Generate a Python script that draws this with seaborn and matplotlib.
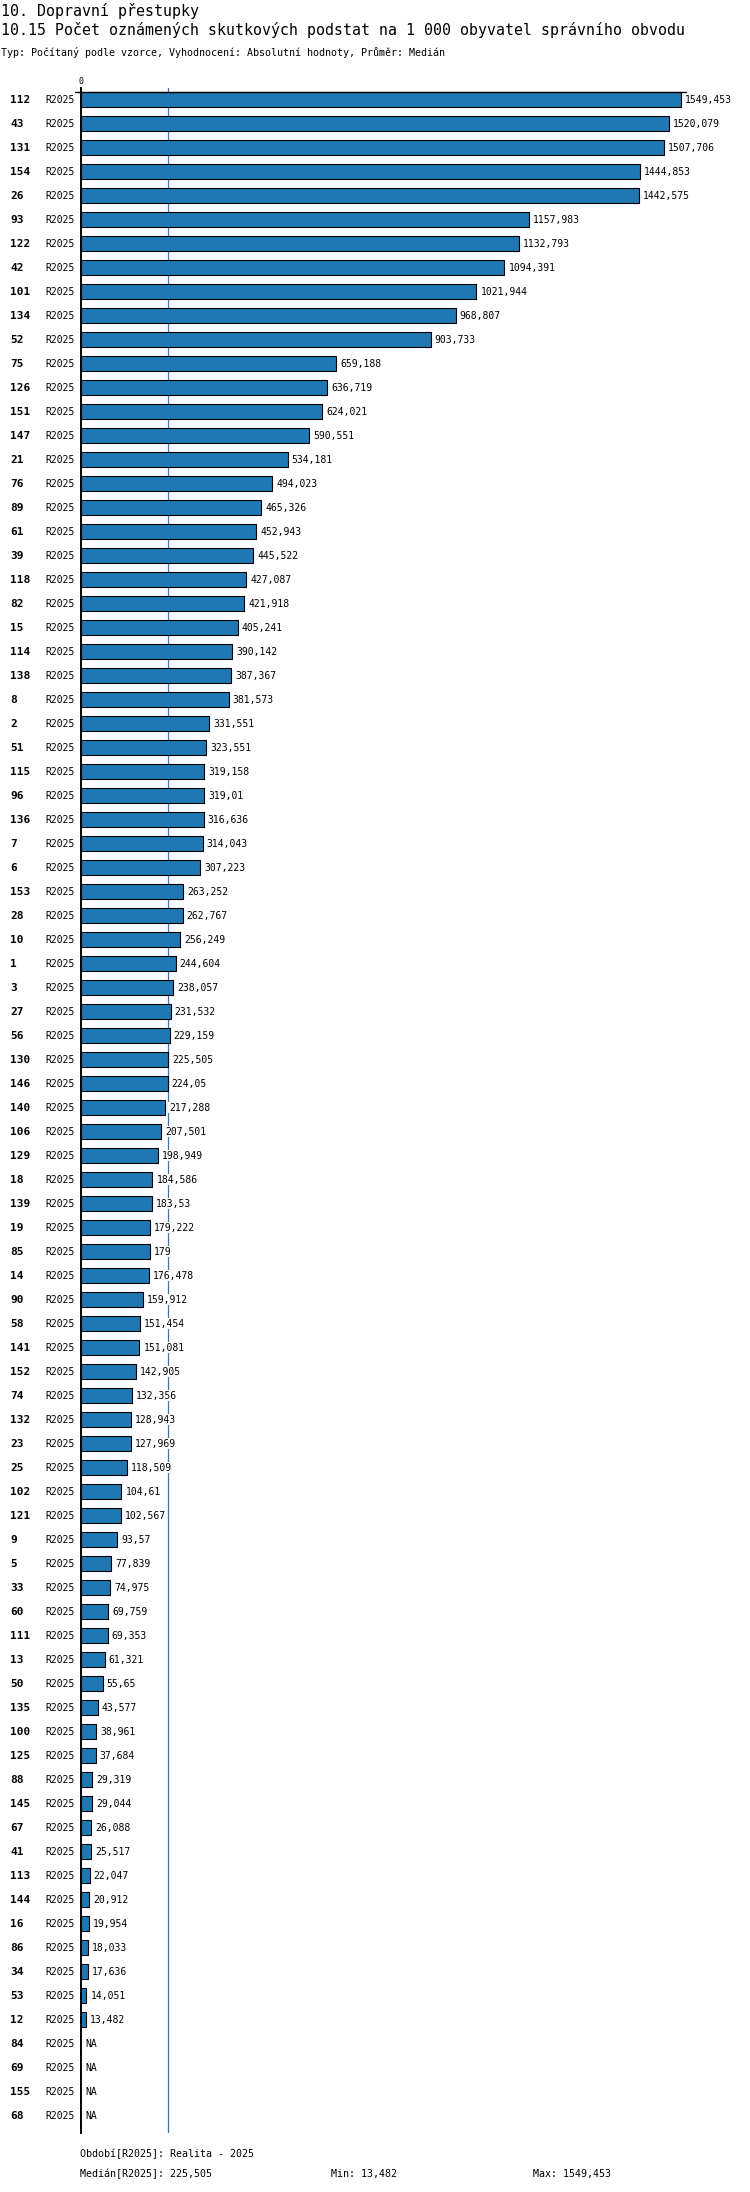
import matplotlib
matplotlib.use("Agg")
import matplotlib.pyplot as plt
import matplotlib.transforms as mtransforms
import numpy as np
import pandas as pd
import seaborn as sns

# Region ids, top to bottom, as shown in the chart.
region_ids = [
    "112", "43", "131", "154", "26", "93", "122", "42", "101", "134", "52",
    "75", "126", "151", "147", "21", "76", "89", "61", "39", "118", "82",
    "15", "114", "138", "8", "2", "51", "115", "96", "136", "7", "6",
    "153", "28", "10", "1", "3", "27", "56", "130", "146", "140", "106",
    "129", "18", "139", "19", "85", "14", "90", "58", "141", "152", "74",
    "132", "23", "25", "102", "121", "9", "5", "33", "60", "111", "13",
    "50", "135", "100", "125", "88", "145", "67", "41", "113", "144", "16",
    "86", "34", "53", "12", "84", "69", "155", "68",
]

# Value per region (per 1 000 inhabitants); None = NA.
values = [
    1549.453, 1520.079, 1507.706, 1444.853, 1442.575, 1157.983, 1132.793,
    1094.391, 1021.944, 968.807, 903.733, 659.188, 636.719, 624.021,
    590.551, 534.181, 494.023, 465.326, 452.943, 445.522, 427.087, 421.918,
    405.241, 390.142, 387.367, 381.573, 331.551, 323.551, 319.158, 319.01,
    316.636, 314.043, 307.223, 263.252, 262.767, 256.249, 244.604, 238.057,
    231.532, 229.159, 225.505, 224.05, 217.288, 207.501, 198.949, 184.586,
    183.53, 179.222, 179.0, 176.478, 159.912, 151.454, 151.081, 142.905,
    132.356, 128.943, 127.969, 118.509, 104.61, 102.567, 93.57, 77.839,
    74.975, 69.759, 69.353, 61.321, 55.65, 43.577, 38.961, 37.684, 29.319,
    29.044, 26.088, 25.517, 22.047, 20.912, 19.954, 18.033, 17.636, 14.051,
    13.482, None, None, None, None,
]

period_label = "R2025"
median_value = 225.505

title_main = "10. Dopravní přestupky"
title_sub = "10.15 Počet oznámených skutkových podstat na 1 000 obyvatel správního obvodu"
subtitle = "Typ: Počítaný podle vzorce, Vyhodnocení: Absolutní hodnoty, Průměr: Medián"
footer_period = "Období[R2025]: Realita - 2025"


def fmt(v):
    # Czech style: comma as decimal separator, trailing zeros dropped.
    text = f"{v:.3f}".rstrip("0").rstrip(".")
    return text.replace(".", ",")


W, H = 750, 2192
BAR_BLUE = "#1f77b4"
MONO = "DejaVu Sans Mono"

sns.set_style("white")
plt.rcParams["font.family"] = [MONO, "DejaVu Sans"]
plt.rcParams["text.color"] = "black"

df = pd.DataFrame({"region": region_ids, "value": values})
df["value"] = pd.to_numeric(df["value"])
known = df.dropna(subset=["value"])

fig = plt.figure(figsize=(W / 100, H / 100), dpi=100)
# Axes placed in pixels: zero line at x=81, bars down to y=2133.
ax = fig.add_axes([81 / W, (H - 2133) / H, (700 - 81) / W, (2133 - 88) / H])

bar_width = 0.63
sns.barplot(
    data=known, x="value", y="region", order=region_ids, orient="h",
    color=BAR_BLUE, edgecolor="black", linewidth=0.8, width=bar_width,
    errorbar=None, saturation=1, ax=ax,
)

# 0 at 81 px and the top value ends near 680 px.
px_per_unit = (680.5 - 81) / max(known["value"])
ax.set_xlim(0, (700 - 81) / px_per_unit)
ax.set_ylim(84.725, -0.483)

ax.set_xlabel("")
ax.set_ylabel("")
ax.set_xticks([])
ax.set_yticks([])
for side in ["top", "right", "bottom"]:
    ax.spines[side].set_visible(False)
ax.spines["left"].set_linewidth(1.4)
ax.spines["left"].set_color("black")

# Median line sits behind the bars.
ax.axvline(median_value, color="#3b74a6", lw=0.9, zorder=0.5)

# Top axis line with a short tick left of zero.
top_y = -bar_width / 2
ax.plot([-6 / px_per_unit, max(known["value"]) + 5 / px_per_unit], [top_y, top_y],
        color="black", lw=1.0, clip_on=False, zorder=3)
fig.text(81 / W, 1 - 81 / H, "0", ha="center", va="center", fontsize=6)

# Row labels: region id (bold) and the period.
row_tr = mtransforms.blended_transform_factory(fig.transFigure, ax.transData)
for i, (rid, val) in enumerate(zip(region_ids, df["value"])):
    ax.text(10 / W, i, rid, transform=row_tr, ha="left", va="center",
            fontsize=8, fontweight="bold")
    ax.text(45 / W, i, period_label, transform=row_tr, ha="left", va="center",
            fontsize=7)
    label = "NA" if np.isnan(val) else fmt(val)
    xpos = 0 if np.isnan(val) else val
    ax.annotate(label, (xpos, i), xytext=(4, 0), textcoords="offset pixels",
                ha="left", va="center", fontsize=7, zorder=4, annotation_clip=False,
                bbox=dict(facecolor="white", edgecolor="none", pad=0.6))

# Titles.
fig.text(1 / W, 1 - 11 / H, title_main, ha="left", va="center", fontsize=10.8)
fig.text(1 / W, 1 - 30 / H, title_sub, ha="left", va="center", fontsize=10.7)
fig.text(1 / W, 1 - 52 / H, subtitle, ha="left", va="center", fontsize=7.2)

# Footer with median, min and max.
vmin = known["value"].min()
vmax = known["value"].max()
fig.text(80 / W, 1 - 2154 / H, footer_period, ha="left", va="center", fontsize=7.2)
fig.text(80 / W, 1 - 2174 / H, f"Medián[R2025]: {fmt(median_value)}",
         ha="left", va="center", fontsize=7.2)
fig.text(331 / W, 1 - 2174 / H, f"Min: {fmt(vmin)}", ha="left", va="center",
         fontsize=7.2)
fig.text(533 / W, 1 - 2174 / H, f"Max: {fmt(vmax)}", ha="left", va="center",
         fontsize=7.2)

fig.savefig("out.png", dpi=100, facecolor="white")
plt.close(fig)
